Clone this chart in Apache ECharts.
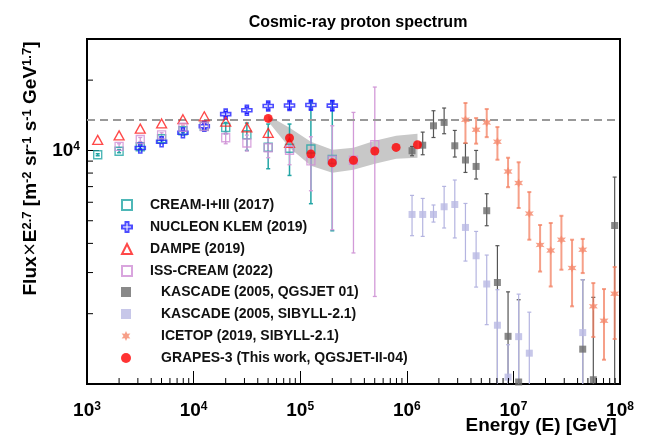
<!DOCTYPE html>
<html>
<head>
<meta charset="utf-8">
<script src="https://cdn.jsdelivr.net/npm/echarts@6/dist/echarts.min.js"></script>
<style>html,body{margin:0;padding:0;background:#fff}#main{width:645px;height:436px}</style>
</head>
<body>
<div id="main"></div>
<script>
// energies in GeV, flux x E^2.7 values
var creamE = [1260, 2000, 3160, 5010, 7940, 12600, 20000, 31600, 50100, 79400, 126000, 200000];
var creamV = [9585, 9920, 10370, 11220, 12140, 12690, 12540, 11670, 10320, 10220, 10140, 9150];
var creamLo = [9490, 9780, 10170, 11000, 11900, 12140, 11790, 10000, 8350, 7815, 5915, 4530];
var creamHi = [9680, 10070, 10580, 11440, 12380, 13260, 13170, 13100, 12970, 12970, 16160, 16320];

var nucleonE = [3160, 5010, 7940, 12600, 20000, 31600, 50100, 79400, 126000, 200000];
var nucleonV = [10240, 10900, 11900, 12700, 14300, 14870, 15500, 15580, 15650, 15550];
var nucleonLo = [10080, 10700, 11650, 12400, 13950, 14400, 14900, 14950, 14900, 14800];
var nucleonHi = [10400, 11100, 12150, 13000, 14700, 15350, 16100, 16250, 16400, 16350];

var dampeE = [1260, 2000, 3160, 5010, 7940, 12600, 20000, 31600, 50100, 79400];
var dampeV = [11100, 11600, 12400, 13050, 13600, 14000, 13300, 12550, 11900, 10770];

var issE = [2000, 3160, 5010, 7940, 12600, 20000, 31600, 50100, 79400, 126000, 200000, 316000, 501000];
var issV = [10400, 11140, 11650, 12570, 12660, 11330, 10760, 10270, 10020, 9030, 9080, 9080, 10580];
var issLo = [10270, 10920, 11380, 12320, 12290, 10680, 9940, 9305, 8685, 6720, 4576, 3640, 2370];
var issHi = [10680, 11360, 11900, 12820, 13050, 12020, 11630, 11330, 11440, 11440, 12750, 14550, 18680];

var kqE = [1.12e6, 1.41e6, 1.78e6, 2.24e6, 2.82e6, 3.55e6, 4.47e6, 5.62e6, 7.08e6, 8.91e6, 1.12e7, 4.47e7, 5.62e7, 8.91e7];
var kqV = [9970, 10530, 12750, 13180, 10470, 9100, 8540, 5520, 2720, 1600, 1020, 1410, 1043, 4770];
var kqLo = [9490, 9585, 11360, 11790, 9370, 8050, 7545, 4760, 800, 800, 800, 800, 800, 800];
var kqHi = [10400, 11980, 14790, 15190, 12180, 10720, 10000, 6525, 3910, 2480, 2295, 2795, 2350, 7690];

var ksE = [1.12e6, 1.41e6, 1.78e6, 2.24e6, 2.82e6, 3.55e6, 4.47e6, 5.62e6, 7.08e6, 8.91e6, 1.12e7, 1.41e7, 4.47e7];
var ksV = [5320, 5320, 5320, 5740, 5870, 4680, 3540, 2680, 1785, 1070, 1595, 1355, 1660];
var ksLo = [4315, 4285, 4935, 4655, 4220, 3360, 2600, 1795, 800, 800, 800, 800, 800];
var ksHi = [6420, 6230, 5840, 7015, 7470, 5930, 4500, 3565, 2533, 1473, 2425, 2030, 2795];

var iceE = [3.55e6, 4.47e6, 5.62e6, 7.08e6, 8.91e6, 1.12e7, 1.41e7, 1.78e7, 2.24e7, 2.82e7, 3.55e7, 4.47e7, 5.62e7, 7.08e7, 8.91e7];
var iceV = [13530, 12260, 13180, 10890, 8120, 7250, 5365, 3940, 3730, 4147, 3140, 3755, 2150, 1865, 2435];
var iceLo = [10760, 10690, 11400, 9124, 6960, 5670, 4147, 3030, 2615, 3085, 2150, 2985, 1590, 1270, 1558];
var iceHi = [15960, 13760, 15040, 12590, 9305, 8900, 6635, 4795, 4890, 5250, 4147, 4180, 2705, 2550, 3170];

var grapesE = [50100, 79400, 126000, 200000, 316000, 501000, 794000, 1260000];
var grapesV = [13710, 11310, 9660, 8860, 9080, 9940, 10300, 10580];
var grapesBandLo = [13300, 10270, 8600, 8030, 8270, 8770, 9210, 9310];
var grapesBandHi = [14100, 12510, 10890, 10070, 10270, 11000, 11560, 11790];

var refLine = 13500;

var xMinorTicks = [2e3, 3e3, 4e3, 5e3, 6e3, 7e3, 8e3, 9e3, 2e4, 3e4, 4e4, 5e4, 6e4, 7e4, 8e4, 9e4,
    2e5, 3e5, 4e5, 5e5, 6e5, 7e5, 8e5, 9e5, 2e6, 3e6, 4e6, 5e6, 6e6, 7e6, 8e6, 9e6,
    2e7, 3e7, 4e7, 5e7, 6e7, 7e7, 8e7, 9e7];
var yMinorTicks = [2000, 3000, 4000, 5000, 6000, 7000, 8000, 9000, 20000];

var FONT = 'Liberation Sans, Arial, sans-serif';

function pts(xs, ys) {
    return xs.map(function (x, i) { return [x, ys[i]]; });
}
function bars(xs, lo, hi) {
    return xs.map(function (x, i) { return [x, lo[i], hi[i]]; });
}

function errorBar(color, width, cap) {
    return function (params, api) {
        var x = api.value(0);
        var t = api.coord([x, api.value(2)]);
        var b = api.coord([x, api.value(1)]);
        var st = {stroke: color, lineWidth: width};
        return {
            type: 'group',
            children: [
                {type: 'line', shape: {x1: t[0], y1: t[1], x2: b[0], y2: b[1]}, style: st},
                {type: 'line', shape: {x1: t[0] - cap, y1: t[1], x2: t[0] + cap, y2: t[1]}, style: st},
                {type: 'line', shape: {x1: b[0] - cap, y1: b[1], x2: b[0] + cap, y2: b[1]}, style: st}
            ]
        };
    };
}

function errSeries(xs, lo, hi, color, width) {
    return {
        type: 'custom',
        renderItem: errorBar(color, width, 2),
        data: bars(xs, lo, hi),
        encode: {x: 0, y: [1, 2]},
        clip: true,
        silent: true,
        z: 2
    };
}

var crossPath = 'path://M3.5,0H6.5V3.5H10V6.5H6.5V10H3.5V6.5H0V3.5H3.5Z';
var starPath = 'path://M10,0L12.5,5.67L18.66,5L15,10L18.66,15L12.5,14.33L10,20L7.5,14.33L1.34,15L5,10L1.34,5L7.5,5.67Z';

var myChart = echarts.init(document.getElementById('main'));

var legendText = {fontSize: 14, fontWeight: 'bold', fontFamily: FONT, color: '#111'};

var option = {
    animation: false,
    backgroundColor: '#fff',
    title: {
        text: 'Cosmic-ray proton spectrum',
        left: 353,
        textAlign: 'center',
        top: 10,
        textStyle: {fontSize: 16, fontWeight: 'bold', fontFamily: FONT, color: '#000'}
    },
    grid: {left: 87, right: 25, top: 39, bottom: 52, outerBoundsMode: 'none',
        show: true, borderColor: '#000', borderWidth: 2},
    legend: [{
        data: ['CREAM-I+III (2017)', 'NUCLEON KLEM (2019)', 'DAMPE (2019)', 'ISS-CREAM (2022)'],
        orient: 'vertical', left: 116, top: 193, itemWidth: 10, itemHeight: 10, itemGap: 8,
        selectedMode: false,
        textStyle: Object.assign({padding: [0, 0, 0, 13]}, legendText)
    }, {
        data: ['KASCADE (2005, QGSJET 01)', 'KASCADE (2005, SIBYLL-2.1)', 'ICETOP (2019, SIBYLL-2.1)', 'GRAPES-3 (This work, QGSJET-II-04)'],
        orient: 'vertical', left: 116, top: 280, itemWidth: 10, itemHeight: 10, itemGap: 8,
        selectedMode: false,
        textStyle: Object.assign({padding: [0, 0, 0, 25]}, legendText)
    }],
    xAxis: {
        type: 'log', min: 1e3, max: 1e8, logBase: 10,
        name: 'Energy (E) [GeV]', nameLocation: 'middle', nameGap: 32, nameMoveOverlap: false,
        nameTextStyle: {fontSize: 19, fontWeight: 'bold', fontFamily: FONT, color: '#000',
            padding: [0, 0, 0, 375]},
        axisLine: {lineStyle: {color: '#000', width: 2}},
        axisTick: {inside: true, length: 13, lineStyle: {color: '#000', width: 1}},
        splitLine: {show: false},
        axisLabel: {
            margin: 17, color: '#000',
            formatter: function (v) { return '{b|10}{s|' + Math.round(Math.log10(v)) + '}'; },
            rich: {
                b: {fontSize: 19, fontWeight: 'bold', fontFamily: FONT, color: '#000'},
                s: {fontSize: 12, fontWeight: 'bold', fontFamily: FONT, color: '#000', verticalAlign: 'top'}
            }
        }
    },
    yAxis: {
        type: 'log', min: 1000, max: 30000, logBase: 10,
        name: '{n|Flux}{m|×}{n|E}{s|2.7}{n| [m}{s|-2}{n| sr}{s|-1}{n| s}{s|-1}{n| GeV}{s|1.7}{n|]}',
        nameLocation: 'middle', nameRotate: 90, nameGap: 47,
        nameTextStyle: {
            padding: [0, 0, 0, 86],
            rich: {
                n: {fontSize: 19, fontWeight: 'bold', fontFamily: FONT, color: '#000'},
                m: {fontSize: 17, fontFamily: 'DejaVu Sans', color: '#000'},
                s: {fontSize: 13, fontWeight: 'bold', fontFamily: FONT, color: '#000', verticalAlign: 'top'}
            }
        },
        axisLine: {lineStyle: {color: '#000', width: 2}},
        axisTick: {inside: true, length: 12, lineStyle: {color: '#000', width: 1}},
        splitLine: {show: false},
        axisLabel: {
            margin: 7, color: '#000',
            formatter: function (v) {
                return Math.abs(Math.log10(v) - 4) < 1e-6 ? '{b|10}{s|4}' : '';
            },
            rich: {
                b: {fontSize: 19, fontWeight: 'bold', fontFamily: FONT, color: '#000'},
                s: {fontSize: 12, fontWeight: 'bold', fontFamily: FONT, color: '#000', verticalAlign: 'top'}
            }
        }
    },
    series: [
        {
            // GRAPES-3 uncertainty band
            type: 'custom', silent: true, z: 1, clip: true,
            data: bars(grapesE, grapesBandLo, grapesBandHi),
            encode: {x: 0, y: [1, 2]},
            renderItem: function (params, api) {
                if (params.dataIndex !== 0) return null;
                var p = [];
                grapesE.forEach(function (e, i) { p.push(api.coord([e, grapesBandHi[i]])); });
                for (var i = grapesE.length - 1; i >= 0; i--) p.push(api.coord([grapesE[i], grapesBandLo[i]]));
                return {type: 'polygon', shape: {points: p}, style: {fill: '#c8c8c8'}};
            }
        },
        errSeries(creamE, creamLo, creamHi, '#22a5a5', 1.5),
        errSeries(nucleonE, nucleonLo, nucleonHi, '#2020ff', 1.2),
        errSeries(issE, issLo, issHi, '#d29ad8', 1.3),
        errSeries(kqE, kqLo, kqHi, '#555555', 1.2),
        errSeries(ksE, ksLo, ksHi, '#b4b4e0', 1.2),
        errSeries(iceE, iceLo, iceHi, 'rgba(243,128,98,0.75)', 2),
        {
            name: 'CREAM-I+III (2017)', type: 'scatter', z: 5, symbol: 'rect', symbolSize: 8,
            itemStyle: {color: 'rgba(255,255,255,0)', borderColor: '#22a5a5', borderWidth: 1.4},
            data: pts(creamE, creamV)
        },
        {
            name: 'NUCLEON KLEM (2019)', type: 'scatter', z: 5, symbol: crossPath, symbolSize: 10,
            itemStyle: {color: 'rgba(255,255,255,0)', borderColor: '#1f1fff', borderWidth: 1.6},
            data: pts(nucleonE, nucleonV)
        },
        {
            name: 'DAMPE (2019)', type: 'scatter', z: 5, symbol: 'triangle', symbolSize: [10, 9],
            itemStyle: {color: 'rgba(255,255,255,0)', borderColor: '#ff1a1a', borderWidth: 1.3},
            data: pts(dampeE, dampeV)
        },
        {
            name: 'ISS-CREAM (2022)', type: 'scatter', z: 5, symbol: 'rect', symbolSize: 8,
            itemStyle: {color: 'rgba(255,255,255,0)', borderColor: '#cf8fd6', borderWidth: 1.3},
            data: pts(issE, issV)
        },
        {
            name: 'KASCADE (2005, QGSJET 01)', type: 'scatter', z: 5, symbol: 'rect', symbolSize: 7,
            itemStyle: {color: '#6b6b6b'},
            data: pts(kqE, kqV)
        },
        {
            name: 'KASCADE (2005, SIBYLL-2.1)', type: 'scatter', z: 5, symbol: 'rect', symbolSize: 7,
            itemStyle: {color: '#b9b9e3'},
            data: pts(ksE, ksV)
        },
        {
            name: 'ICETOP (2019, SIBYLL-2.1)', type: 'scatter', z: 5, symbol: starPath, symbolSize: 9,
            itemStyle: {color: '#f5876a'},
            data: pts(iceE, iceV)
        },
        {
            name: 'GRAPES-3 (This work, QGSJET-II-04)', type: 'scatter', z: 6, symbol: 'circle', symbolSize: 9,
            itemStyle: {color: '#ff0000'},
            data: pts(grapesE, grapesV),
            markLine: {
                silent: true, symbol: ['none', 'none'], label: {show: false},
                lineStyle: {color: '#999', type: [8, 5], width: 2},
                data: [{yAxis: refLine}]
            }
        },
        {
            // minor ticks on the energy axis
            type: 'custom', silent: true, z: 7,
            data: xMinorTicks.map(function (v) { return [v, 1000]; }),
            renderItem: function (params, api) {
                var x = api.coord([api.value(0), 1000])[0];
                var b = params.coordSys.y + params.coordSys.height;
                return {type: 'line', shape: {x1: x, y1: b, x2: x, y2: b - 6}, style: {stroke: '#000', lineWidth: 1}};
            }
        },
        {
            // minor ticks on the flux axis
            type: 'custom', silent: true, z: 7,
            data: yMinorTicks.map(function (v) { return [1000, v]; }),
            renderItem: function (params, api) {
                var y = api.coord([1000, api.value(1)])[1];
                var l = params.coordSys.x;
                return {type: 'line', shape: {x1: l, y1: y, x2: l + 6, y2: y}, style: {stroke: '#000', lineWidth: 1}};
            }
        }
    ]
};
myChart.setOption(option);
</script>
</body>
</html>
